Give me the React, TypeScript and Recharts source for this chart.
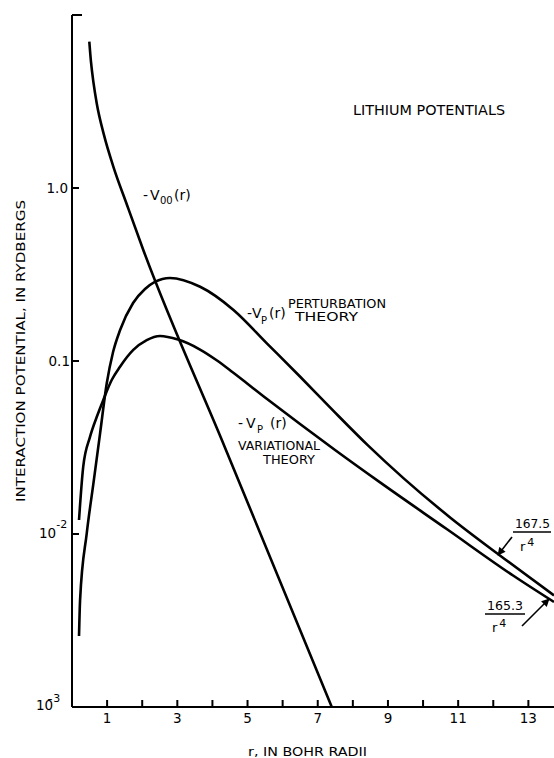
import React from 'react';
import { LineChart, Line, XAxis, YAxis } from 'recharts';

// r in Bohr radii, potential in Rydbergs
const v00R = [0.493, 0.541, 0.613, 0.704, 0.912, 1.177, 1.567, 2.031, 4.359, 7.4];
const v00V = [7.01, 5.35, 4.05, 3.09, 2.02, 1.33, 0.798, 0.4385, 0.03155, 0.001];

const pertR = [0.2, 0.23, 0.42, 0.61, 0.8, 0.99, 1.17, 1.37, 1.74, 2.08, 2.36, 2.79, 3.65, 4.6, 5.55, 6.5, 7.44, 8.43, 9.44, 10.77, 12.19, 13.73];
const pertV = [0.00257, 0.00415, 0.01009, 0.01963, 0.03819, 0.0743, 0.1127, 0.151, 0.2163, 0.2606, 0.2864, 0.302, 0.2685, 0.1972, 0.1265, 0.0811, 0.05164, 0.03251, 0.02104, 0.01247, 0.007516, 0.004416];

const varR = [0.2, 0.32, 0.513, 0.704, 0.892, 1.131, 1.368, 1.746, 2.128, 2.507, 3.02, 3.647, 4.131, 4.587, 5.556, 6.496, 7.493, 8.775, 10.684, 12.564, 13.73];
const varV = [0.01205, 0.02449, 0.0364, 0.04742, 0.05957, 0.07762, 0.09268, 0.1159, 0.1321, 0.1396, 0.133, 0.1165, 0.1007, 0.0858, 0.06029, 0.04323, 0.03058, 0.01987, 0.01065, 0.005755, 0.004045];

const xTicks = [1, 2, 3, 4, 5, 6, 7, 8, 9, 10, 11, 12, 13];
const xTickLabels = ['1', '', '3', '', '5', '', '7', '', '9', '', '11', '', '13'];
const yTicks = [0.001, 0.01, 0.1, 1, 10];

const toPts = (rs: number[], vs: number[]) => rs.map((r, i) => ({ r, v: vs[i] }));
const v00Data = toPts(v00R, v00V);
const pertData = toPts(pertR, pertV);
const varData = toPts(varR, varV);

const FONT = 'DejaVu Sans, Liberation Sans, sans-serif';

const XTick = (props: any) => {
  const { x, y, payload } = props;
  const idx = xTicks.indexOf(payload.value);
  const lab = idx >= 0 ? xTickLabels[idx] : '';
  return (
    <g>
      <line x1={x} y1={y} x2={x} y2={y - 7} stroke="#000" strokeWidth={2} />
      {lab ? (
        <text x={x} y={y + 16} textAnchor="middle" fontSize={13.5} fontFamily={FONT} fill="#000">
          {lab}
        </text>
      ) : null}
    </g>
  );
};

const YTick = (props: any) => {
  const { x, y, payload } = props;
  const v = payload.value;
  const tx = x - 4;
  let label: React.ReactNode = null;
  if (v === 1) label = <text x={tx} y={y + 5} textAnchor="end" fontSize={13.5} fontFamily={FONT} fill="#000">1.0</text>;
  else if (v === 0.1) label = <text x={tx + 2} y={y + 5} textAnchor="end" fontSize={13.5} fontFamily={FONT} fill="#000">0.1</text>;
  else if (v === 0.01)
    label = (
      <text x={tx - 29} y={y + 4} fontSize={13.5} fontFamily={FONT} fill="#000">
        10<tspan dy={-10} fontSize={11}>-2</tspan>
      </text>
    );
  else if (v === 0.001)
    label = (
      <text x={tx - 32} y={y + 3} fontSize={13.5} fontFamily={FONT} fill="#000">
        1{'0\u0304'}<tspan dy={-8} fontSize={11}>3</tspan>
      </text>
    );
  return (
    <g>
      {v !== 0.001 ? <line x1={x} y1={y} x2={x + (v === 10 ? 10 : 7)} y2={y} stroke="#000" strokeWidth={2} /> : null}
      {label}
    </g>
  );
};

export default function App() {
  return (
    <div style={{ position: 'absolute', left: 0, top: 0, width: 554, height: 758, background: '#fff', overflow: 'hidden' }}>
      <LineChart width={554} height={758} margin={{ top: 15, right: 0, bottom: 0, left: 0 }}>
        <XAxis
          type="number"
          dataKey="r"
          domain={[0, 13.73]}
          ticks={xTicks}
          interval={0}
          allowDataOverflow
          height={51}
          tickSize={0}
          tickMargin={0}
          tickLine={false}
          axisLine={{ stroke: '#000', strokeWidth: 2 }}
          tick={(p: any) => <XTick {...p} />}
        />
        <YAxis
          type="number"
          dataKey="v"
          scale="log"
          domain={[0.001, 10]}
          ticks={yTicks}
          interval={0}
          allowDataOverflow
          width={72}
          tickSize={0}
          tickMargin={0}
          tickLine={false}
          axisLine={{ stroke: '#000', strokeWidth: 2 }}
          tick={(p: any) => <YTick {...p} />}
        />
        <Line data={v00Data} dataKey="v" type="monotone" stroke="#000" strokeWidth={2.6} dot={false} isAnimationActive={false} />
        <Line data={pertData} dataKey="v" type="monotone" stroke="#000" strokeWidth={2.6} dot={false} isAnimationActive={false} />
        <Line data={varData} dataKey="v" type="monotone" stroke="#000" strokeWidth={2.6} dot={false} isAnimationActive={false} />
      </LineChart>
      <svg
        width={554}
        height={758}
        style={{ position: 'absolute', left: 0, top: 0, pointerEvents: 'none' }}
        fontFamily={FONT}
        fill="#000"
      >
        <defs>
          <marker id="ah" viewBox="0 0 10 10" refX="9" refY="5" markerWidth="10" markerHeight="8" orient="auto" markerUnits="userSpaceOnUse">
            <path d="M0,0 L10,5 L0,10 z" fill="#000" />
          </marker>
        </defs>
        {/* title */}
        <text x={353} y={115} fontSize={13.5} textLength={152} lengthAdjust="spacingAndGlyphs">LITHIUM POTENTIALS</text>
        {/* axis titles */}
        <text transform="translate(25,351) rotate(-90)" textAnchor="middle" fontSize={13} textLength={302} lengthAdjust="spacingAndGlyphs">
          INTERACTION POTENTIAL, IN RYDBERGS
        </text>
        <text x={248} y={756} fontSize={13} textLength={119} lengthAdjust="spacingAndGlyphs">r, IN BOHR RADII</text>
        {/* -V00(r) */}
        <text y={200} fontSize={14}>
          <tspan x={143}>-</tspan>
          <tspan x={150}>V</tspan>
          <tspan x={160} dy={4} fontSize={10}>00</tspan>
          <tspan x={174} dy={-4}>(r)</tspan>
        </text>
        {/* perturbation */}
        <text y={318} fontSize={14}>
          <tspan x={247}>-</tspan>
          <tspan x={252}>V</tspan>
          <tspan x={261} dy={6} fontSize={10}>P</tspan>
          <tspan x={269} dy={-6}>(r)</tspan>
        </text>
        <text x={288} y={308} fontSize={12} textLength={98} lengthAdjust="spacingAndGlyphs">PERTURBATION</text>
        <text x={295} y={321} fontSize={12} textLength={63} lengthAdjust="spacingAndGlyphs">THEORY</text>
        {/* variational */}
        <text y={428} fontSize={14}>
          <tspan x={238}>-</tspan>
          <tspan x={246}>V</tspan>
          <tspan x={257} dy={5} fontSize={10}>P</tspan>
          <tspan x={270} dy={-5}>(r)</tspan>
        </text>
        <text x={238} y={450} fontSize={12} textLength={82} lengthAdjust="spacingAndGlyphs">VARIATIONAL</text>
        <text x={263} y={464} fontSize={12} textLength={52} lengthAdjust="spacingAndGlyphs">THEORY</text>
        {/* 167.5 / r^4 */}
        <text x={515} y={528} fontSize={12.5} textLength={35} lengthAdjust="spacingAndGlyphs">167.5</text>
        <line x1={513} y1={532} x2={551} y2={532} stroke="#000" strokeWidth={1.6} />
        <text x={520} y={551} fontSize={13}>r<tspan dx={2} dy={-5} fontSize={11}>4</tspan></text>
        <line x1={512} y1={537} x2={498} y2={555} stroke="#000" strokeWidth={1.6} markerEnd="url(#ah)" />
        {/* 165.3 / r^4 */}
        <text x={487} y={610} fontSize={12.5} textLength={36} lengthAdjust="spacingAndGlyphs">165.3</text>
        <line x1={485} y1={614} x2={525} y2={614} stroke="#000" strokeWidth={1.6} />
        <text x={492} y={632} fontSize={13}>r<tspan dx={2} dy={-5} fontSize={11}>4</tspan></text>
        <line x1={522} y1={626} x2={549} y2={599} stroke="#000" strokeWidth={1.6} markerEnd="url(#ah)" />
      </svg>
    </div>
  );
}
